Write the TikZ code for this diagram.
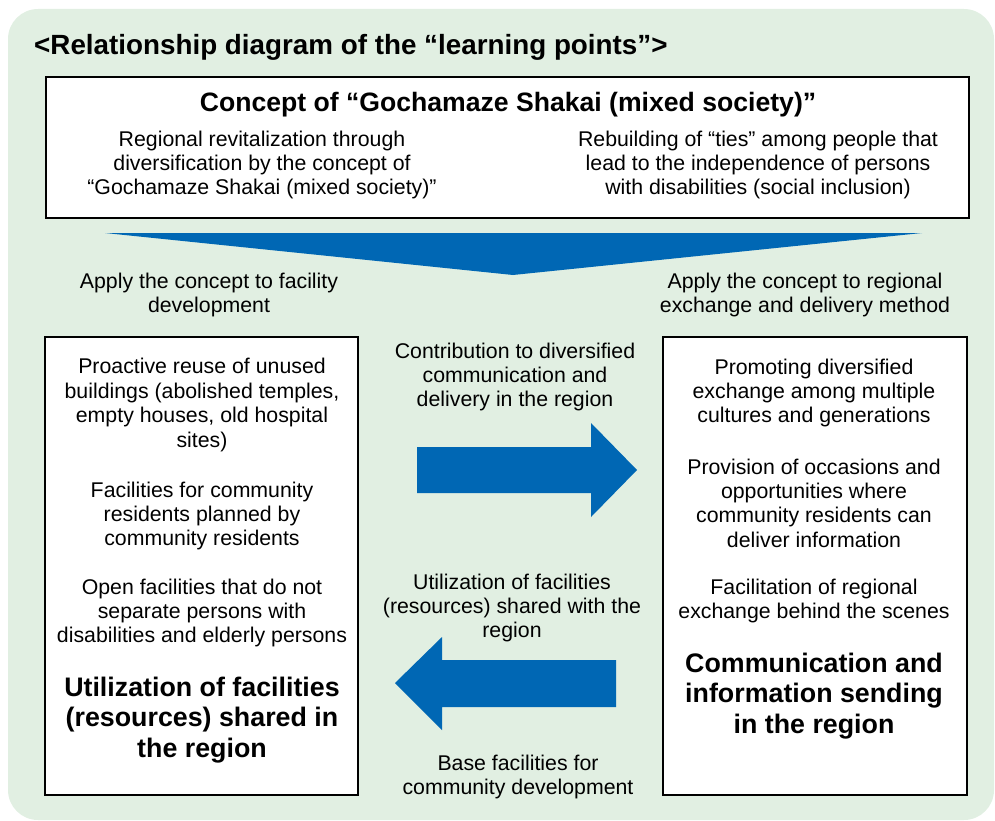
\documentclass[tikz,border=0pt]{standalone}
\usepackage{fontspec}
\setmainfont{Liberation Sans}
\definecolor{bgreen}{HTML}{E1EFE2}
\definecolor{ablue}{HTML}{0067B4}
\begin{document}
\begin{tikzpicture}[x=1pt,y=-1pt,
  frame/.style={draw=black,line width=2.4pt,fill=white},
  body/.style={align=center,inner sep=0pt,font=\fontsize{21.3}{24.4}\selectfont},
  head/.style={align=center,inner sep=0pt,font=\bfseries\fontsize{26.8}{30.5}\selectfont},
  blockarrow/.style={fill=ablue,draw=none}]
\useasboundingbox (0,0) rectangle (995,821);
\fill[bgreen,rounded corners=30pt] (8,9) rectangle (994,820);
\node[anchor=west,inner sep=0pt,font=\bfseries\fontsize{27.8}{30}\selectfont] (title) at (34,47) {<Relationship diagram of the “learning points”>};
% top box
\draw[frame] (46,77) rectangle (969,218);
\node[inner sep=0pt,font=\bfseries\fontsize{26.6}{30}\selectfont] (concept) at (508,105) {Concept of “Gochamaze Shakai (mixed society)”};
\node[body] (c1) at (262,165) {Regional revitalization through\\diversification by the concept of\\“Gochamaze Shakai (mixed society)”};
\node[body] (c2) at (758,165) {Rebuilding of “ties” among people that\\lead to the independence of persons\\with disabilities (social inclusion)};
% triangle
\fill[ablue] (105,233) -- (922,233) -- (513,275) -- cycle;
\node[body] (applyL) at (209,295) {Apply the concept to facility\\development};
\node[body] (applyR) at (805,295) {Apply the concept to regional\\exchange and delivery method};
% left box
\draw[frame] (45,337) rectangle (358,795);
\node[body] (l1) at (202,405) {Proactive reuse of unused\\buildings (abolished temples,\\empty houses, old hospital\\sites)};
\node[body] (l2) at (202,516) {Facilities for community\\residents planned by\\community residents};
\node[body] (l3) at (202,613) {Open facilities that do not\\separate persons with\\disabilities and elderly persons};
\node[head] (lh) at (202,720) {Utilization of facilities\\(resources) shared in\\the region};
% right box
\draw[frame] (663,337) rectangle (967,795);
\node[body] (r1) at (814,393) {Promoting diversified\\exchange among multiple\\cultures and generations};
\node[body] (r2) at (814,503) {Provision of occasions and\\opportunities where\\community residents can\\deliver information};
\node[body] (r3) at (814,601) {Facilitation of regional\\exchange behind the scenes};
\node[head] (rh) at (814,696) {Communication and\\information sending\\in the region};
% middle
\node[body] (m1) at (515,377) {Contribution to diversified\\communication and\\delivery in the region};
\node[body] (m2) at (512,608) {Utilization of facilities\\(resources) shared with the\\region};
\node[body] (m3) at (518,777) {Base facilities for\\community development};
\fill[blockarrow] (417,447) -- (591,447) -- (591,423) -- (637,470) -- (591,517) -- (591,493) -- (417,493) -- cycle;
\fill[blockarrow] (616,660) -- (442,660) -- (442,637) -- (395,683) -- (442,730) -- (442,707) -- (616,707) -- cycle;
\end{tikzpicture}
\end{document}
